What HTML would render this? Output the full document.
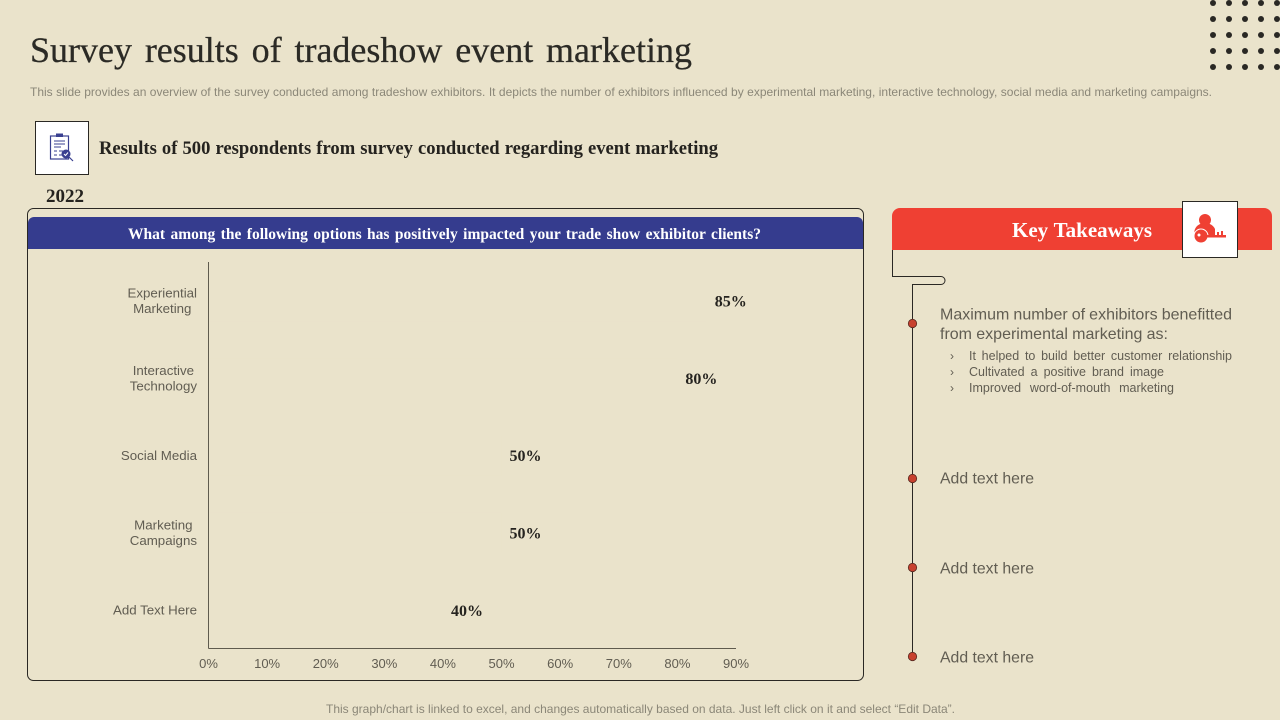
<!DOCTYPE html>
<html lang="en">
<head>
<meta charset="utf-8">
<title>Survey results of tradeshow event marketing</title>
<style>
html,body{margin:0;padding:0;width:1280px;height:720px;overflow:hidden;background:#eae3cb}
svg{display:block}
.serif{font-family:"Liberation Serif",serif}
.sans{font-family:"Liberation Sans",sans-serif}
</style>
</head>
<body>
<svg id="slide" width="1280" height="720" viewBox="0 0 1280 720" xmlns="http://www.w3.org/2000/svg">
<rect width="1280" height="720" fill="#eae3cb"/>
<g id="dots" fill="#2a2824">
<circle cx="1213" cy="3" r="3"/><circle cx="1229" cy="3" r="3"/><circle cx="1245" cy="3" r="3"/><circle cx="1261" cy="3" r="3"/><circle cx="1277" cy="3" r="3"/>
<circle cx="1213" cy="19" r="3"/><circle cx="1229" cy="19" r="3"/><circle cx="1245" cy="19" r="3"/><circle cx="1261" cy="19" r="3"/><circle cx="1277" cy="19" r="3"/>
<circle cx="1213" cy="35" r="3"/><circle cx="1229" cy="35" r="3"/><circle cx="1245" cy="35" r="3"/><circle cx="1261" cy="35" r="3"/><circle cx="1277" cy="35" r="3"/>
<circle cx="1213" cy="51" r="3"/><circle cx="1229" cy="51" r="3"/><circle cx="1245" cy="51" r="3"/><circle cx="1261" cy="51" r="3"/><circle cx="1277" cy="51" r="3"/>
<circle cx="1213" cy="67" r="3"/><circle cx="1229" cy="67" r="3"/><circle cx="1245" cy="67" r="3"/><circle cx="1261" cy="67" r="3"/><circle cx="1277" cy="67" r="3"/>
</g>
<text class="serif fit" x="30" y="62" font-size="36" fill="#2b2a25" stroke="#2b2a25" stroke-width="0.25" data-width="662">Survey results of tradeshow event marketing</text>
<text class="sans fit" x="30" y="96" font-size="12" fill="#8b8778" data-width="1182">This slide provides an overview of the survey conducted among tradeshow exhibitors. It depicts the number of exhibitors influenced by experimental marketing, interactive technology, social media and marketing campaigns.</text>

<g>
<rect x="35.5" y="121.5" width="53" height="53" fill="#ffffff" stroke="#2a2824"/>
<rect x="50.5" y="136" width="18" height="23" fill="none" stroke="#3a4090" stroke-width="1.2"/>
<rect x="56" y="133.5" width="7" height="3.5" fill="#3a4090"/>
<path d="M54 141h11M54 144h11M54 147h7M54 151h3M59 151h4M54 155h3M59 155h3" stroke="#3a4090" stroke-width="1"/>
<circle cx="66" cy="154" r="4.5" fill="#3a4090"/>
<path d="M64 154l1.5 1.5 2.5-3" stroke="#ffffff" stroke-width="1" fill="none"/>
<path d="M69 157l4 4" stroke="#3a4090" stroke-width="1.2"/>
</g>
<text class="serif fit" x="99" y="154" font-size="18.6" font-weight="bold" fill="#25231f" data-width="619">Results of 500 respondents from survey conducted regarding event marketing</text>
<text class="serif" x="46" y="202" font-size="19" font-weight="bold" fill="#25231f">2022</text>

<rect x="27.5" y="208.5" width="836" height="472" rx="6" fill="none" stroke="#2a2824" stroke-width="1"/>
<path d="M28 249V223a6 6 0 0 1 6-6H857a6 6 0 0 1 6 6V249Z" fill="#353c8e"/>
<text class="serif fit" x="128" y="239" font-size="15.5" font-weight="bold" fill="#ffffff" data-width="633">What among the following options has positively impacted your trade show exhibitor clients?</text>

<g id="chart"></g>

<path d="M892 250V216a8 8 0 0 1 8-8H1264a8 8 0 0 1 8 8V250Z" fill="#ef4033"/>
<text class="serif fit" x="1012" y="237" font-size="21" font-weight="bold" fill="#ffffff" data-width="140">Key Takeaways</text>
<g>
<rect x="1182.5" y="201.5" width="55" height="56" fill="#ffffff" stroke="#2a2824"/>
<circle cx="1205" cy="220" r="6" fill="#ef4033"/>
<path d="M1195 235a10 8.5 0 0 1 20-6v6h-20Z" fill="#ef4033"/>
<circle cx="1201" cy="236" r="7" fill="#ef4033" stroke="#ffffff" stroke-width="1"/>
<circle cx="1199" cy="235" r="1.5" fill="#ffffff"/>
<path d="M1207 235h19v2.5h-19ZM1217 232h2v3h-2ZM1221 231h2v4h-2Z" fill="#ef4033"/>
</g>
<path d="M892.5 250V276.5H941a3.5 3.5 0 0 1 0 8H912.5V656" fill="none" stroke="#2a2824" stroke-width="1"/>
<circle cx="912.5" cy="323.5" r="4.2" fill="#c8412f" stroke="#5a2a20" stroke-width="0.8"/>
<circle cx="912.5" cy="478.5" r="4.2" fill="#c8412f" stroke="#5a2a20" stroke-width="0.8"/>
<circle cx="912.5" cy="567.5" r="4.2" fill="#c8412f" stroke="#5a2a20" stroke-width="0.8"/>
<circle cx="912.5" cy="656.5" r="4.2" fill="#c8412f" stroke="#5a2a20" stroke-width="0.8"/>

<g class="sans" fill="#615d52">
<text class="fit" x="940" y="319.5" font-size="16" data-width="292">Maximum number of exhibitors benefitted</text>
<text class="fit" x="940" y="339" font-size="16" data-width="228">from experimental marketing as:</text>
<text x="950" y="360" font-size="12">›</text>
<text x="950" y="376" font-size="12">›</text>
<text x="950" y="392" font-size="12">›</text>
<text class="fit" x="969" y="360" font-size="12.5" data-width="263">It helped to build better customer relationship</text>
<text class="fit" x="969" y="376" font-size="12.5" data-width="195">Cultivated a positive brand image</text>
<text class="fit" x="969" y="392" font-size="12.5" data-width="205">Improved word-of-mouth marketing</text>
<text class="fit" x="940" y="483.5" font-size="15.8" data-width="94">Add text here</text>
<text class="fit" x="940" y="573.5" font-size="15.8" data-width="94">Add text here</text>
<text class="fit" x="940" y="662.5" font-size="15.8" data-width="94">Add text here</text>
</g>
<text class="sans fit" x="326" y="713" font-size="12" fill="#8b8778" data-width="629">This graph/chart is linked to excel, and changes automatically based on data. Just left click on it and select “Edit Data”.</text>
</svg>
<script>
const categories = [["Experiential","Marketing"],["Interactive","Technology"],["Social Media"],["Marketing","Campaigns"],["Add Text Here"]];
const values = [85, 80, 50, 50, 40];
const valueLabels = ["85%", "80%", "50%", "50%", "40%"];
const ticks = [0, 10, 20, 30, 40, 50, 60, 70, 80, 90];
const tickLabels = ["0%", "10%", "20%", "30%", "40%", "50%", "60%", "70%", "80%", "90%"];

const NS = 'http://www.w3.org/2000/svg';
const chart = document.getElementById('chart');
const x0 = 208.5, x1 = 736, yTop = 262, yBottom = 648.5;
function xScale(v) { return x0 + (v - ticks[0]) / (ticks[ticks.length - 1] - ticks[0]) * (x1 - x0); }
function yBand(i) { return yTop + (yBottom - yTop) * (i + 0.5) / categories.length + 0.4; }
function add(tag) { const el = document.createElementNS(NS, tag); chart.appendChild(el); return el; }

categories.forEach(function (lines, i) {
  const bar = add('rect');
  
  
  bar.setAttribute('x', x0);
  bar.setAttribute('y', yBand(i) - 20);
  bar.setAttribute('width', xScale(values[i]) - x0);
  bar.setAttribute('height', 40);
  bar.setAttribute('fill', '#eae3cb');

  const label = add('text');
  
  
  label.setAttribute('x', xScale(values[i]) + 24);
  label.setAttribute('y', yBand(i) + 5.5);
  label.setAttribute('text-anchor', 'middle');
  label.setAttribute('font-family', '"Liberation Serif", serif');
  label.setAttribute('font-size', '16');
  label.setAttribute('font-weight', 'bold');
  label.setAttribute('fill', '#25231f');
  label.textContent = valueLabels[i];

  const nodes = lines.map(function (line, j) {
    const t = add('text');
    
    
    t.setAttribute('y', yBand(i) + 4.3 + (j - (lines.length - 1) / 2) * 15.5);
    t.setAttribute('text-anchor', 'middle');
    t.setAttribute('font-family', '"Liberation Sans", sans-serif');
    t.setAttribute('font-size', '13.3');
    t.setAttribute('fill', '#615d52');
    t.textContent = line;
    return t;
  });
  const widest = Math.max.apply(null, nodes.map(function (n) { return n.getComputedTextLength(); }));
  nodes.forEach(function (n) { n.setAttribute('x', 197 - widest / 2); });
});

ticks.forEach(function (t, i) {
  const label = add('text');
  
  
  label.setAttribute('x', xScale(t));
  label.setAttribute('y', 668);
  label.setAttribute('text-anchor', 'middle');
  label.setAttribute('font-family', '"Liberation Sans", sans-serif');
  label.setAttribute('font-size', '13');
  label.setAttribute('fill', '#615d52');
  label.textContent = tickLabels[i];
});

const yAxis = add('line');


yAxis.setAttribute('x1', x0);
yAxis.setAttribute('x2', x0);
yAxis.setAttribute('y1', yTop);
yAxis.setAttribute('y2', yBottom);
yAxis.setAttribute('stroke', '#5f5b4e');

const xAxis = add('line');


xAxis.setAttribute('x1', x0);
xAxis.setAttribute('x2', x1);
xAxis.setAttribute('y1', yBottom);
xAxis.setAttribute('y2', yBottom);
xAxis.setAttribute('stroke', '#5f5b4e');

// Stretch word gaps (not letter gaps) so each line spans its measured width.
document.querySelectorAll('text.fit').forEach(function (el) {
  const target = parseFloat(el.getAttribute('data-width'));
  const natural = el.getComputedTextLength();
  const spaces = el.textContent.split(' ').length - 1;
  if (spaces > 0) { el.style.wordSpacing = ((target - natural) / spaces) + 'px'; }
});
</script>
</body>
</html>
